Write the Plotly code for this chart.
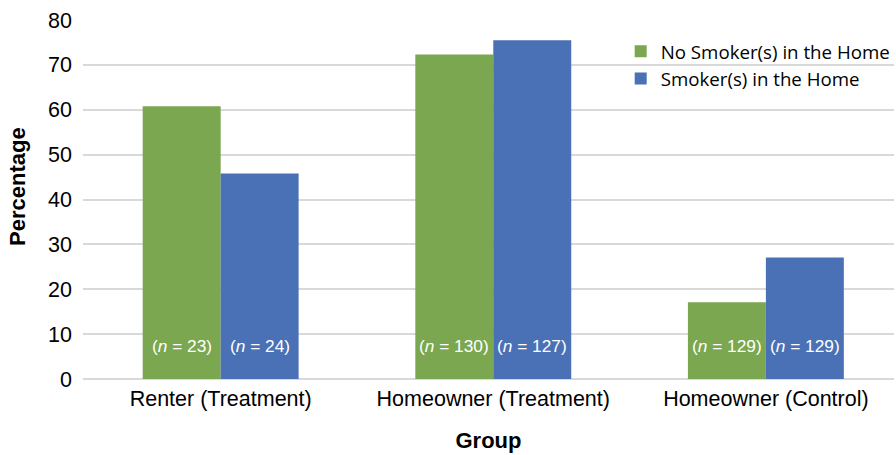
import plotly.graph_objects as go

groups = ["Renter (Treatment)", "Homeowner (Treatment)", "Homeowner (Control)"]
no_smoker = [60.8, 72.3, 17.1]
smoker = [45.8, 75.5, 27.1]
n_no_smoker = [23, 130, 129]
n_smoker = [24, 127, 129]
series_names = ["No Smoker(s) in the Home", "Smoker(s) in the Home"]
y_ticks = [0, 10, 20, 30, 40, 50, 60, 70, 80]

GREEN = "#7AA74F"
BLUE = "#4A71B6"
W, H = 896, 455
M_L, M_R, M_T, M_B = 83, 0, 20, 76
BARGAP = 0.428
X_RANGE = [-0.505, 2.47]
SANS = "Liberation Sans, Arial, sans-serif"

fig = go.Figure()
fig.add_trace(go.Bar(x=groups, y=no_smoker, name=series_names[0],
                     marker=dict(color=GREEN, line=dict(width=0))))
fig.add_trace(go.Bar(x=groups, y=smoker, name=series_names[1],
                     marker=dict(color=BLUE, line=dict(width=0))))

# sample-size labels near the bottom of each bar
cat_px = (W - M_L - M_R) / (X_RANGE[1] - X_RANGE[0])
half_bar = cat_px * (1 - BARGAP) / 4
for g, a, b in zip(groups, n_no_smoker, n_smoker):
    for n, shift in ((a, -half_bar), (b, half_bar)):
        fig.add_annotation(x=g, y=7.3, xref="x", yref="y", xshift=shift,
                           text=f"(<i>n</i> = {n})", showarrow=False,
                           font=dict(family=SANS, size=17.3, color="white"),
                           xanchor="center", yanchor="middle")

# vertical axis title, placed as a rotated annotation
fig.add_annotation(text="<b>Percentage</b>", textangle=-90, showarrow=False,
                   xref="paper", yref="paper", x=0, y=0.535, xshift=-65,
                   xanchor="center", yanchor="middle",
                   font=dict(family=SANS, size=22, color="#000000"))

fig.update_layout(
    width=W, height=H,
    margin=dict(l=M_L, r=M_R, t=M_T, b=M_B),
    paper_bgcolor="white", plot_bgcolor="white",
    barmode="group", bargap=BARGAP, bargroupgap=0,
    font=dict(family=SANS, size=21.5, color="#000000"),
    legend=dict(x=0.663, y=0.965, xanchor="left", yanchor="top",
                bgcolor="rgba(255,255,255,0)",
                font=dict(family="Open Sans, sans-serif", size=18.7, color="#000000"),
                tracegroupgap=0, itemwidth=30),
    xaxis=dict(title=dict(text="<b>Group</b>", font=dict(size=22), standoff=23),
               showgrid=False, showline=False, ticks="",
               tickfont=dict(size=21.5), ticklabelstandoff=4, range=X_RANGE),
    yaxis=dict(range=[0, 80], tickvals=y_ticks, showgrid=True,
               gridcolor="#D9D9D9", gridwidth=1.5, zeroline=True,
               zerolinecolor="#D9D9D9", zerolinewidth=1.5,
               showline=False, ticks="", tickfont=dict(size=21.5),
               ticklabelstandoff=10),
)

fig.write_html("out.html")
